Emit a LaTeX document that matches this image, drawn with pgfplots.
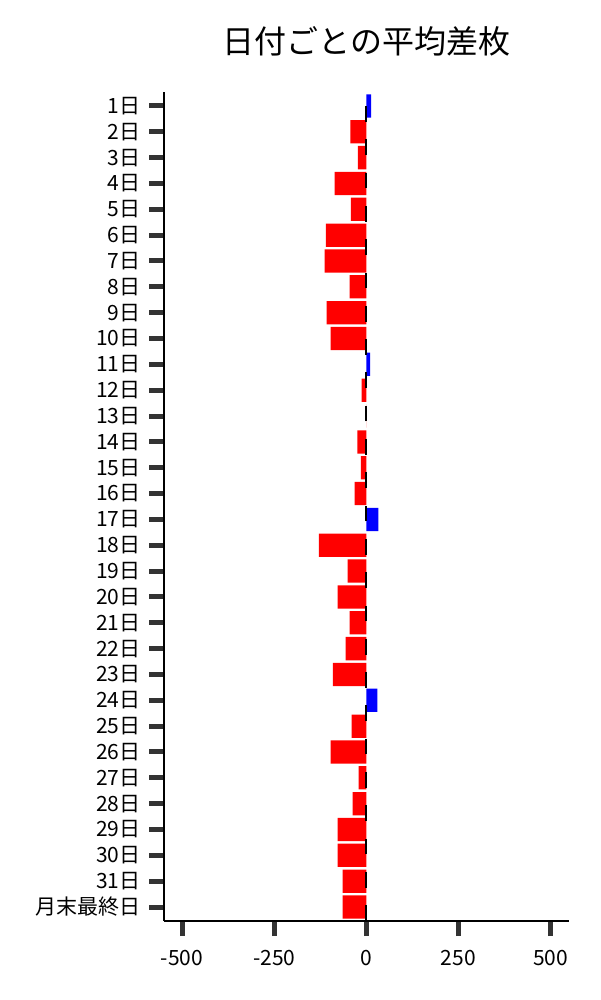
\documentclass[border=0pt]{standalone}
\usepackage{fontspec}
\setmainfont{Noto Sans CJK JP}
\usepackage{pgfplots}
\pgfplotsset{compat=1.18}
\definecolor{tickgray}{HTML}{333333}
\begin{document}
\begin{tikzpicture}[x=1pt,y=1pt]
\useasboundingbox (0,0) rectangle (600,1000);
\begin{axis}[
  at={(164pt,79pt)}, anchor=south west,
  scale only axis, width=405pt, height=829pt,
  xmin=-549, xmax=550,
  ymin=-0.54, ymax=31.54,
  axis x line*=bottom, axis y line*=left,
  axis line style={line width=1.2pt, black},
  tick align=outside,
  major tick length=15pt,
  every tick/.style={line width=5pt, tickgray},
  xtick={-500,-250,0,250,500},
  xticklabels={-500,-250,0,250,500},
  ytick={0,...,31},
  yticklabels={月末最終日,31日,30日,29日,28日,27日,26日,25日,24日,23日,22日,21日,20日,19日,18日,17日,16日,15日,14日,13日,12日,11日,10日,9日,8日,7日,6日,5日,4日,3日,2日,1日},
  tick label style={font=\fontsize{21}{25}\selectfont},
  xticklabel style={yshift=-11pt},
  yticklabel style={xshift=-5pt},
  title={日付ごとの平均差枚},
  title style={font=\fontsize{32}{38}\selectfont, at={(0.5,1)}, anchor=center, yshift=45pt},
  xbar, bar width=0.9, bar shift=0pt,
]
\addplot[fill=red, draw=none] coordinates {
 (-43,30) (-23,29) (-86,28) (-42,27) (-110,26) (-113,25) (-45,24) (-108,23) (-97,22)
 (-13,20) (0,19) (-24,18) (-15,17) (-32,16) (-129,14) (-51,13) (-78,12) (-45,11)
 (-56,10) (-91,9) (-40,7) (-97,6) (-21,5) (-37,4) (-78,3) (-78,2) (-64,1) (-64,0)
};
\addplot[fill=blue, draw=none] coordinates {
 (13,31) (10,21) (33,15) (30,8)
};
\draw[black, line width=2pt, dash pattern=on 15.7pt off 17.6pt] (axis cs:0,-0.54) -- (axis cs:0,31.54);
\end{axis}
\end{tikzpicture}
\end{document}
